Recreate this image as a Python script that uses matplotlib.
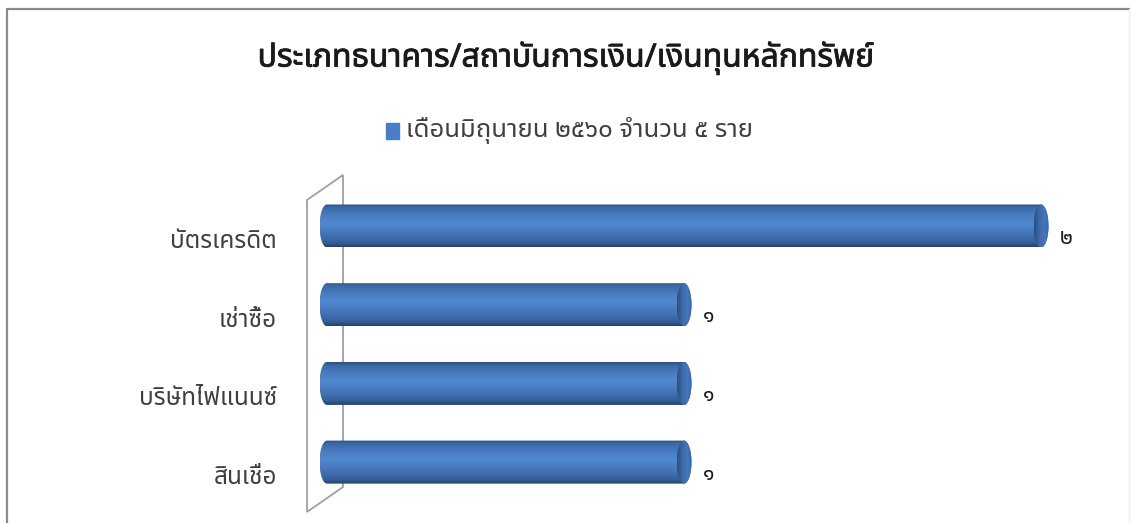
import numpy as np
import matplotlib.pyplot as plt
import matplotlib.patheffects as pe
from matplotlib import font_manager
from matplotlib.ft2font import FT2Font
from matplotlib.path import Path
from matplotlib.patches import PathPatch, Ellipse, Polygon, Rectangle
from matplotlib.colors import LinearSegmentedColormap

# data
categories = ['บัตรเครดิต', 'เช่าซื้อ', 'บริษัทไฟแนนซ์', 'สินเชื่อ']
counts = [2, 1, 1, 1]
value_labels = ['๒', '๑', '๑', '๑']
title = 'ประเภทธนาคาร/สถาบันการเงิน/เงินทุนหลักทรัพย์'
series_name = 'เดือนมิถุนายน ๒๕๖๐ จำนวน ๕ ราย'


def thai_font():
    # look for an installed font that actually has Thai glyphs
    preferred = ['Tahoma', 'Noto Sans Thai', 'Leelawadee', 'Loma', 'Garuda',
                 'Umpush', 'Kinnari', 'Norasi', 'Sarabun', 'Waree']
    found = {}
    for f in font_manager.fontManager.ttflist:
        try:
            cm = FT2Font(f.fname).get_charmap()
        except Exception:
            continue
        if 0x0E01 in cm and 0x0E51 in cm:
            found.setdefault(f.name, f.fname)
    for p in preferred:
        if p in found:
            return p
    return sorted(found)[0] if found else 'DejaVu Sans'


tfont = thai_font()
plt.rcParams['font.family'] = [tfont, 'DejaVu Sans']

W, H = 1132, 523
fig = plt.figure(figsize=(W / 100, H / 100), dpi=100)
fig.patch.set_facecolor('white')

# chart frame
frame = fig.add_axes([0, 0, 1, 1])
frame.set_xlim(0, W)
frame.set_ylim(H, 0)
frame.axis('off')
frame.plot([7, 7, 1129], [H, 9, 9], color='#8a8a8a', lw=1.6)
frame.plot([1129, 1129], [9, H], color='#eeeeee', lw=1)

fig.text(0.5, 1 - 58 / H, title, ha='center', va='center',
         fontsize=23, color='#1a1a1a', weight='bold',
         path_effects=[pe.withStroke(linewidth=0.6, foreground='#1a1a1a')])
fig.patches.append(Rectangle((386 / W, 1 - 139 / H), 13 / W, 16 / H,
                             transform=fig.transFigure, color='#4a7ec4'))
fig.text(406 / W, 1 - 131 / H, series_name, ha='left', va='center',
         fontsize=18.5, color='#404040')

# plot area
x0_px, x1_px = 290, 1110
y0_px, y1_px = 165, 523
ax = fig.add_axes([x0_px / W, 1 - y1_px / H, (x1_px - x0_px) / W, (y1_px - y0_px) / H])
ax.axis('off')
ppu = 357.0              # pixels per unit along x
zero_px = 327
ax.set_xlim((x0_px - zero_px) / ppu, (x1_px - zero_px) / ppu)
row = 78.7
top_c = 226
ax.set_ylim((y1_px - top_c) / row, (y0_px - top_c) / row)

# back wall
wx = -20 / ppu
wd = 36 / ppu
wall = Polygon([(wx, (200 - top_c) / row), (wx + wd, (175 - top_c) / row),
                (wx + wd, (487 - top_c) / row), (wx, (512 - top_c) / row)],
               closed=True, facecolor='white', edgecolor='#a0a0a0', lw=1.3, zorder=1)
ax.add_patch(wall)

body_cmap = LinearSegmentedColormap.from_list('cyl', [
    (0.0, '#2c5082'), (0.08, '#3b69a6'), (0.3, '#4c80c6'), (0.45, '#5088cf'),
    (0.7, '#4474b8'), (0.9, '#355f98'), (1.0, '#243f66')])
cap_cmap = LinearSegmentedColormap.from_list('cap', [
    (0.0, '#2b4f80'), (0.35, '#3c69a8'), (0.7, '#4676b9'), (1.0, '#3a66a3')])

bh = 43 / row            # bar thickness
rx = 7.5 / ppu           # end cap half width
grad = np.linspace(0, 1, 256).reshape(-1, 1)

for i, (v, lab) in enumerate(zip(counts, value_labels)):
    yc = i
    yt, yb = yc - bh / 2, yc + bh / 2
    # outline: half ellipse at the base, half ellipse at the end
    t = np.linspace(np.pi / 2, 3 * np.pi / 2, 40)
    left = np.column_stack([rx * np.cos(t), yc - (bh / 2) * np.sin(t)])
    t2 = np.linspace(-np.pi / 2, np.pi / 2, 40)
    right = np.column_stack([v + rx * np.cos(t2), yc - (bh / 2) * np.sin(t2)])
    verts = np.vstack([left, right, left[:1]])
    clip = PathPatch(Path(verts), transform=ax.transData, facecolor='none', edgecolor='none')
    ax.add_patch(clip)
    im = ax.imshow(grad, cmap=body_cmap, aspect='auto', extent=(-rx, v + rx, yb, yt),
                   origin='upper', zorder=3, interpolation='bilinear')
    im.set_clip_path(clip)

    # end face of the cylinder
    face = Ellipse((v, yc), 2 * rx, bh, transform=ax.transData,
                   facecolor='none', edgecolor='none')
    ax.add_patch(face)
    gx = np.linspace(0, 1, 64).reshape(1, -1)
    im2 = ax.imshow(gx, cmap=cap_cmap, aspect='auto', extent=(v - rx, v + rx, yb, yt),
                    origin='upper', zorder=4, interpolation='bilinear')
    im2.set_clip_path(face)

    ax.text(v + rx + 11 / ppu, yc + 12 / row, lab, ha='left', va='center',
            fontsize=15, color='#1a1a1a', zorder=5)

# category labels
for i, c in enumerate(categories):
    fig.text(277 / W, 1 - (top_c + 16 + i * row) / H, c, ha='right', va='center',
             fontsize=17.5, color='#404040')

fig.savefig('out.png', dpi=100, facecolor='white')
